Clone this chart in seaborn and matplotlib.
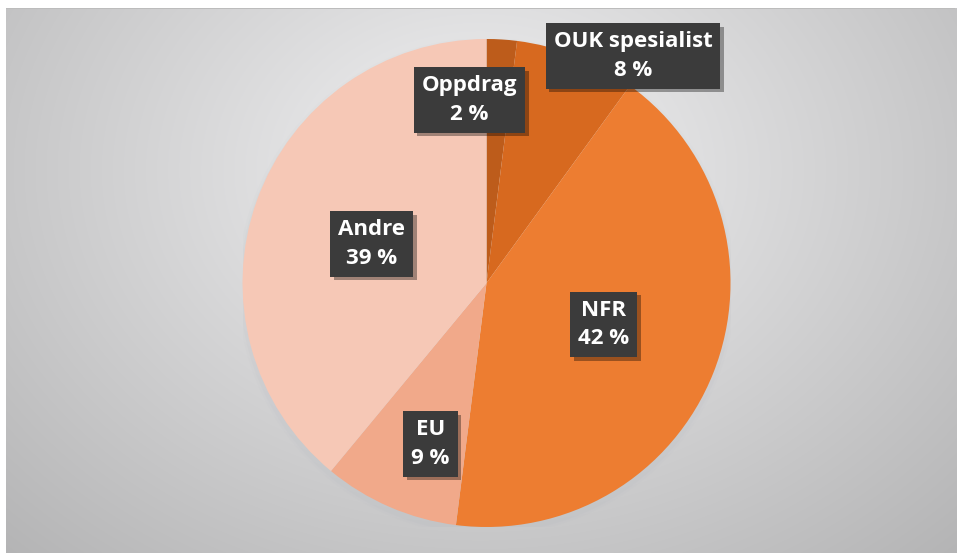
import numpy as np
import matplotlib
matplotlib.use("Agg")
import matplotlib.pyplot as plt
import matplotlib.patheffects as pe
from matplotlib.patches import Circle
import seaborn as sns

# data, clockwise from 12 o'clock
categories = ["Oppdrag", "OUK spesialist", "NFR", "EU", "Andre"]
shares = [2, 8, 42, 9, 39]
colors = ["#bd5c1b", "#d7691f", "#ed7d31", "#f1a98a", "#f6c8b6"]

# where each label box sits (pie units)
label_xy = [(-0.07, 0.75), (0.60, 0.93), (0.48, -0.17), (-0.23, -0.66), (-0.47, 0.16)]

sns.set_theme(style="white")
plt.rcParams["font.family"] = ["Open Sans", "DejaVu Sans"]

W, H = 957, 553
fig = plt.figure(figsize=(W / 100, H / 100), dpi=100)
fig.patch.set_facecolor("white")

# grey radial background of the chart area
bg = fig.add_axes([0, 0, 1, 1], zorder=0)
yy, xx = np.mgrid[0:H, 0:W]
d = np.sqrt(((xx - 480) / 620) ** 2 + ((yy - 170) / 480) ** 2)
img = np.clip(0.95 - 0.22 * d, 0, 1)
rgb = np.dstack([img, img, img * 1.005])
rgb = np.clip(rgb, 0, 1)
rgb[:8, :, :] = 1.0
rgb[8, 6:955, :] = 0.74
rgb[8:, :6, :] = 1.0
bg.imshow(rgb, extent=(0, W, H, 0), aspect="auto", interpolation="nearest")
bg.set_xlim(0, W)
bg.set_ylim(H, 0)
bg.axis("off")

# pie: centre (486.5, 283) px, radius 244 px
r = 244
ax = fig.add_axes([(486.5 - r) / W, (H - 283 - r) / H, 2 * r / W, 2 * r / H], zorder=1)
ax.set_facecolor("none")

# soft shadow under the pie
for k, a in zip([1.02, 1.01], [0.03, 0.05]):
    ax.add_patch(Circle((0.0, -0.015), k, color="#9aa6b3", alpha=a, lw=0, zorder=0))

ax.pie(shares, colors=colors, startangle=90, counterclock=False,
       wedgeprops=dict(linewidth=0), radius=1)

for name, val, (x, y) in zip(categories, shares, label_xy):
    t = ax.text(x, y, f"{name}\n{val} %", ha="center", va="center",
                color="white", fontsize=16, fontweight="bold",
                linespacing=1.45, zorder=5,
                bbox=dict(boxstyle="square,pad=0.36", fc="#3b3b3b", ec="none"))
    t.get_bbox_patch().set_path_effects(
        [pe.SimplePatchShadow(offset=(2.5, -2.5), shadow_rgbFace="black", alpha=0.35),
         pe.Normal()])

ax.set_xlim(-1, 1)
ax.set_ylim(-1, 1)
ax.set_aspect("equal")
ax.axis("off")

fig.savefig("out.png", dpi=100)
